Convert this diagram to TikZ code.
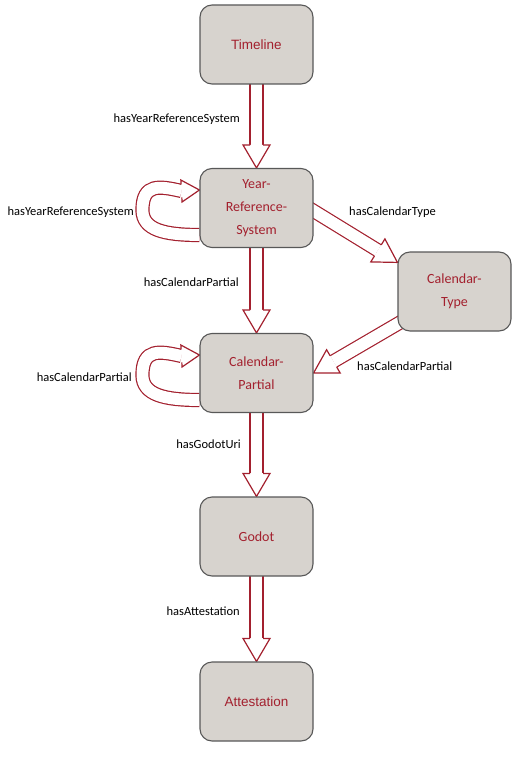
\documentclass[tikz,border=0pt]{standalone}
\usepackage{fontspec}
\usetikzlibrary{calc,backgrounds}
\newfontfamily\carlito{Carlito}
\newfontfamily\arialfam{Liberation Sans}
\definecolor{boxfill}{HTML}{D7D3CE}
\definecolor{boxline}{HTML}{585858}
\definecolor{relred}{HTML}{A3202E}

% open head of a block arrow: #2 = back of head, #3 = tip, #1 = half width
\newcommand\arrowhead[3][13.5pt]{%
  \filldraw[head] ($(#2)!6.5pt!90:(#3)$) -- ($(#2)!#1!90:(#3)$) -- (#3)
    -- ($(#2)!#1!-90:(#3)$) -- ($(#2)!6.5pt!-90:(#3)$);
}
% straight block arrow from #1 to #2
\newcommand\blockarrow[2]{%
  \coordinate (hb) at ($(#2)!23pt!(#1)$);
  \path[shaft] (#1) -- (hb);
  \arrowhead{hb}{#2}
}

\begin{document}
\begin{tikzpicture}[x=1pt, y=1pt]
\tikzstyle{cls} = [draw=boxline, line width=1.1pt, fill=boxfill, rounded corners=12pt, minimum width=113pt, minimum height=79pt, inner sep=0pt, align=center, text=relred, font=\carlito\fontsize{14}{23}\selectfont]
\tikzstyle{rel} = [inner sep=0pt, font=\carlito\fontsize{12.5}{15}\selectfont]
\tikzstyle{shaft} = [draw=relred, line width=1.2pt, double=white, double distance=11.8pt]
\tikzstyle{head} = [draw=relred, line width=1.2pt, fill=white]
\useasboundingbox (0,0) rectangle (526,-757);
\node[cls, font=\arialfam\fontsize{13.5}{16}\selectfont] (tl) at (256.5, -44.5) {Timeline};
\node[cls] (yrs) at (256.5, -208) {Year-\\Reference-\\System};
\node[cls] (ct) at (454.5, -291.5) {Calendar-\\Type};
\node[cls] (cp) at (256.5, -373) {Calendar-\\Partial};
\node[cls] (god) at (256.5, -536.5) {Godot};
\node[cls, font=\arialfam\fontsize{13.5}{16}\selectfont] (att) at (256.5, -701.5) {Attestation};
\begin{pgfonlayer}{background}
\blockarrow{[yshift=3pt]tl.south}{yrs.north}
\blockarrow{[yshift=3pt]yrs.south}{cp.north}
\blockarrow{[yshift=3pt]cp.south}{god.north}
\blockarrow{[yshift=3pt]god.south}{att.north}
\blockarrow{[shift={(-8,2)}]yrs.east}{ct.153}
\blockarrow{[xshift=8pt]ct.206}{cp.east}
% self loops
\coordinate (yt) at ([yshift=18pt]yrs.west);
\path[shaft] ([yshift=-27pt]yrs.west) .. controls +(-35,0) and +(0,-20) .. ++(-57,25)
  .. controls +(0,27) and +(-22,5) .. ++(39,19) coordinate (yl);
\arrowhead[11pt]{yl}{yt}
\coordinate (ct2) at ([yshift=18pt]cp.west);
\path[shaft] ([yshift=-27pt]cp.west) .. controls +(-35,0) and +(0,-20) .. ++(-57,25)
  .. controls +(0,27) and +(-22,5) .. ++(39,19) coordinate (cl);
\arrowhead[11pt]{cl}{ct2}
\end{pgfonlayer}
\node[rel, anchor=east] (l_tl) at (240, -119) {hasYearReferenceSystem};
\node[rel, anchor=east] (l_yl) at (134, -212) {hasYearReferenceSystem};
\node[rel, anchor=west] (l_ct) at (349, -212) {hasCalendarType};
\node[rel, anchor=east] (l_cp) at (239, -282) {hasCalendarPartial};
\node[rel, anchor=east] (l_cl) at (132, -377) {hasCalendarPartial};
\node[rel, anchor=west] (l_tc) at (357, -366) {hasCalendarPartial};
\node[rel, anchor=east] (l_god) at (241, -444) {hasGodotUri};
\node[rel, anchor=east] (l_att) at (240, -611) {hasAttestation};
\end{tikzpicture}
\end{document}
